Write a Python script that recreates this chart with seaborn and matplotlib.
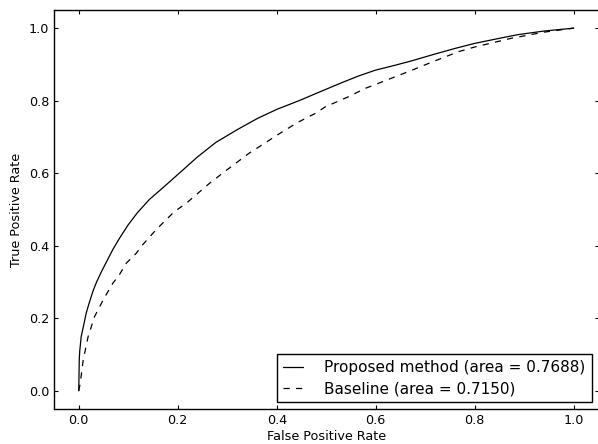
#!/usr/bin/env python3
# -*- coding: utf-8 -*-

import seaborn as sns
import matplotlib
matplotlib.use("Agg")
import matplotlib.pyplot as plt
import pandas as pd

# ROC points
fpr_proposed = [0.0, 0.001, 0.002, 0.005, 0.009, 0.015, 0.021, 0.029, 0.036, 0.046, 0.052,
                0.069, 0.082, 0.10, 0.119, 0.143, 0.17, 0.203, 0.24, 0.277, 0.32, 0.361,
                0.40, 0.445, 0.49, 0.532, 0.565, 0.599, 0.64, 0.673, 0.713, 0.76, 0.80,
                0.85, 0.887, 0.94, 1.0]
tpr_proposed = [0.0, 0.085, 0.11, 0.15, 0.175, 0.214, 0.242, 0.276, 0.300, 0.329, 0.345,
                0.39, 0.42, 0.458, 0.492, 0.528, 0.56, 0.600, 0.645, 0.685, 0.72, 0.751,
                0.776, 0.800, 0.826, 0.850, 0.868, 0.884, 0.898, 0.910, 0.926, 0.944, 0.958,
                0.972, 0.982, 0.992, 1.0]

fpr_baseline = [0.0, 0.003, 0.009, 0.019, 0.032, 0.049, 0.069, 0.082, 0.096, 0.116, 0.126,
                0.156, 0.193, 0.217, 0.264, 0.30, 0.344, 0.411, 0.445, 0.478, 0.498, 0.545,
                0.579, 0.60, 0.673, 0.72, 0.767, 0.80, 0.874, 0.94, 1.0]
tpr_baseline = [0.0, 0.021, 0.085, 0.150, 0.205, 0.25, 0.297, 0.320, 0.352, 0.379, 0.398,
                0.444, 0.494, 0.517, 0.572, 0.61, 0.655, 0.714, 0.742, 0.765, 0.783, 0.811,
                0.834, 0.845, 0.884, 0.91, 0.935, 0.948, 0.972, 0.989, 1.0]

label_proposed = "Proposed method (area = 0.7688)"
label_baseline = "Baseline (area = 0.7150)"
ticks = [0.0, 0.2, 0.4, 0.6, 0.8, 1.0]


def plot_roc(pngfilename):
    sns.set_theme(style="ticks", rc={
        "xtick.direction": "in", "ytick.direction": "in",
        "xtick.top": True, "ytick.right": True,
        "xtick.major.size": 3, "ytick.major.size": 3,
        "xtick.major.width": 0.8, "ytick.major.width": 0.8,
        "xtick.major.pad": 3.5, "ytick.major.pad": 3.5,
        "axes.edgecolor": "black", "axes.linewidth": 1.0,
        "text.color": "black", "axes.labelcolor": "black",
        "xtick.color": "black", "ytick.color": "black",
    })
    plt.rcParams['font.family'] = ['DejaVu Sans']
    plt.rcParams['font.size'] = 9.2

    df_p = pd.DataFrame({'fpr': fpr_proposed, 'tpr': tpr_proposed})
    df_b = pd.DataFrame({'fpr': fpr_baseline, 'tpr': tpr_baseline})

    fig = plt.figure(figsize=(5.98, 4.44), dpi=100)
    ax = fig.add_axes([54 / 598, 35 / 444, 544.5 / 598, 399 / 444])

    sns.lineplot(data=df_p, x='fpr', y='tpr', ax=ax, color='black', linewidth=0.9,
                 estimator=None, sort=False, label=label_proposed)
    sns.lineplot(data=df_b, x='fpr', y='tpr', ax=ax, color='black', linewidth=0.9,
                 linestyle=(0, (5, 5)), estimator=None, sort=False, label=label_baseline)

    ax.set_xlim(-0.05, 1.05)
    ax.set_ylim(-0.05, 1.05)
    ax.set_xticks(ticks)
    ax.set_yticks(ticks)
    ax.set_xticklabels(["%.1f" % t for t in ticks], fontsize=9.2)
    ax.set_yticklabels(["%.1f" % t for t in ticks], fontsize=9.2)
    ax.set_xlabel("False Positive Rate", fontsize=9.2, labelpad=2)
    ax.set_ylabel("True Positive Rate", fontsize=9.2)

    leg = ax.legend(loc='lower right', fontsize=11, fancybox=False, frameon=True,
                    edgecolor='black', handlelength=1.3, handletextpad=1.4,
                    borderpad=0.4, labelspacing=0.4, borderaxespad=0.45)
    leg.get_frame().set_linewidth(1.0)
    leg.get_frame().set_alpha(None)
    leg._legend_box.sep = 4

    plt.savefig(pngfilename, dpi=100)


if __name__ == '__main__':
    plot_roc("out.png")
